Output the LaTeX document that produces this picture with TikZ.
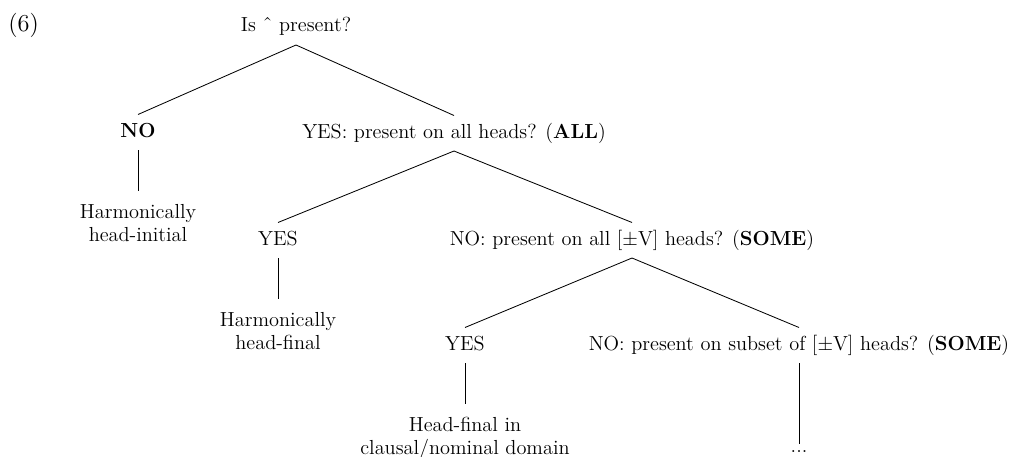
\documentclass[tikz,border=0pt]{standalone}
\usepackage{fontspec}
\usetikzlibrary{positioning}
\begin{document}
\begin{tikzpicture}[
        x=0.6pt, y=-0.6pt,
        node distance=24.6pt,
        every node/.style={font=\fontsize{12.2}{13.8}\selectfont},
        qnode/.style={anchor=base, inner xsep=0pt, inner ysep=5.3pt, text height=8pt, text depth=2.3pt},
        leaf/.style={align=center, inner xsep=0pt, inner ysep=7.6pt},
        branch/.style={line width=0.5pt}
    ]
        \useasboundingbox (0,0) rectangle (1009,456);

        % Example number
        \node[anchor=base west, inner sep=0pt, font=\fontsize{14.6}{16}\selectfont] (exnum) at (8,32) {(6)};

        % Questions
        \node[qnode] (root) at (296,32) {Is ˆ present?};
        \node[qnode] (no1) at (138,137) {\textbf{NO}};
        \node[qnode] (all) at (454,138) {YES: present on all heads? (\textbf{ALL})};
        \node[qnode] (yes1) at (278,245) {YES};
        \node[qnode] (some1) at (632,245) {NO: present on all [$\pm$V] heads? (\textbf{SOME})};
        \node[qnode] (yes2) at (465,350) {YES};
        \node[qnode] (some2) at (799,350) {NO: present on subset of [$\pm$V] heads? (\textbf{SOME})};

        % Outcomes
        \node[leaf, below=of no1] (harmini) {Harmonically\\head-initial};
        \node[leaf, below=of yes1] (harmfin) {Harmonically\\head-final};
        \node[leaf, below=of yes2] (partfin) {Head-final in\\clausal/nominal domain};
        \node[leaf, inner ysep=4pt, below=48.6pt of some2] (more) {...};

        % Branches
        \draw[branch] (root.south) -- (no1.north);
        \draw[branch] (root.south) -- (all.north);
        \draw[branch] (no1.south) -- (harmini.north);
        \draw[branch] (all.south) -- (yes1.north);
        \draw[branch] (all.south) -- (some1.north);
        \draw[branch] (yes1.south) -- (harmfin.north);
        \draw[branch] (some1.south) -- (yes2.north);
        \draw[branch] (some1.south) -- (some2.north);
        \draw[branch] (yes2.south) -- (partfin.north);
        \draw[branch] (some2.south) -- (more.north);
    \end{tikzpicture}
\end{document}
